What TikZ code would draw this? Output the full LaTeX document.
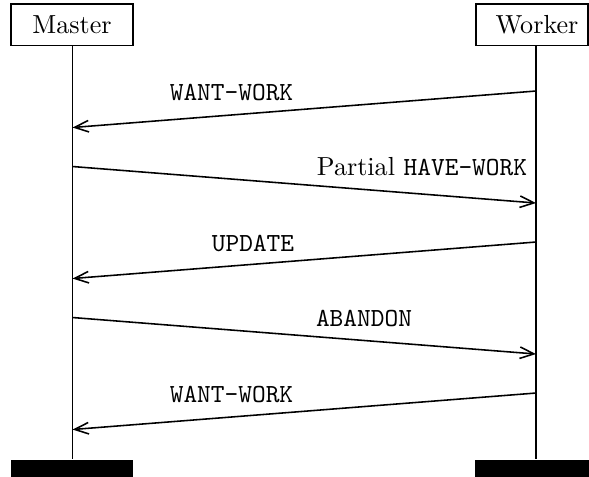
\documentclass[tikz,border=0pt]{standalone}
\usetikzlibrary{arrows.meta}
\begin{document}
\begin{tikzpicture}[x=0.3831pt,y=-0.3831pt,
  thread/.style={draw, line width=0.55pt, minimum height=15.9pt, inner sep=0pt},
  lifeline/.style={line width=0.6pt},
  endbar/.style={fill=black, minimum height=6.6pt, inner sep=0pt},
  msg/.style={line width=0.6pt, -{Straight Barb[length=5.4pt,width=4.4pt]}},
  msglabel/.style={anchor=base, inner sep=0pt}]
  \useasboundingbox (0,0) rectangle (589,476);

  % thread heads
  \node[thread, minimum width=46.74pt] (master) at (72,24.8) {Master};
  \node[thread, minimum width=42.9pt] (worker) at (532,24.8) {\hspace*{3.8pt}Worker};

  % thread ends
  \node[endbar, minimum width=46.74pt, anchor=north] (mend) at (72,459) {};
  \node[endbar, minimum width=43.7pt, anchor=north] (wend) at (532,459) {};

  % lifelines
  \coordinate (mtop) at (72.5,45.5);
  \coordinate (mbot) at (72.5,459);
  \coordinate (wtop) at (536,45.5);
  \coordinate (wbot) at (536,459);
  \draw[lifeline] (mtop) -- (mbot);
  \draw[lifeline] (wtop) -- (wbot);

  % message end points
  \coordinate (w1) at (536,91);    \coordinate (m1) at (72.5,127.5);
  \coordinate (m2) at (72.5,166.5);\coordinate (w2) at (536,203);
  \coordinate (w3) at (536,242);   \coordinate (m3) at (72.5,278.5);
  \coordinate (m4) at (72.5,317.5);\coordinate (w4) at (536,354);
  \coordinate (w5) at (536,393);   \coordinate (m5) at (72.5,429.5);

  % messages
  \draw[msg] (w1) -- (m1);
  \draw[msg] (m2) -- (w2);
  \draw[msg] (w3) -- (m3);
  \draw[msg] (m4) -- (w4);
  \draw[msg] (w5) -- (m5);

  % message labels
  \node[msglabel] (l1) at (231.5,100) {\texttt{WANT-WORK}};
  \node[msglabel] (l2) at (422,175.5) {Partial \texttt{HAVE-WORK}};
  \node[msglabel] (l3) at (253,251) {\texttt{UPDATE}};
  \node[msglabel] (l4) at (364,326.5) {\texttt{ABANDON}};
  \node[msglabel] (l5) at (231.5,402) {\texttt{WANT-WORK}};
\end{tikzpicture}
\end{document}
